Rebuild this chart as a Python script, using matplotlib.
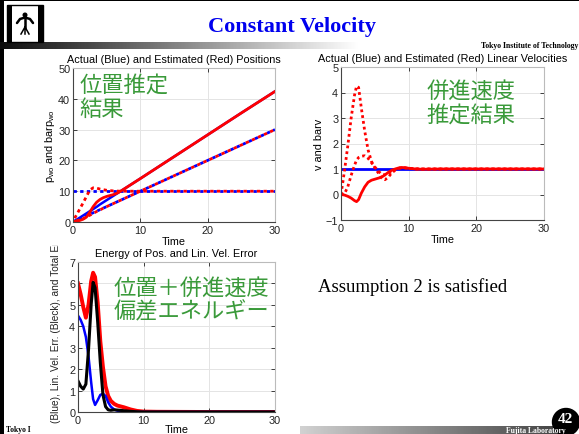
import numpy as np
import matplotlib
matplotlib.use("Agg")
import matplotlib.pyplot as plt
from matplotlib.patches import Rectangle, Circle
from matplotlib.transforms import Bbox, TransformedBbox

plt.rcParams['font.family'] = ['Liberation Sans', 'Noto Sans CJK JP']
plt.rcParams['mathtext.fontset'] = 'custom'
plt.rcParams['mathtext.rm'] = 'Liberation Sans'
plt.rcParams['mathtext.it'] = 'Liberation Sans'

W, H = 579, 435

# ---------------- data ----------------
# positions
t_pos = [0, 0.5, 1, 1.5, 2, 2.5, 3, 3.5, 4, 4.5, 5, 5.5, 6, 6.5, 7, 8, 10, 15, 20, 25, 30]
pos_act_a = [0, 0.7, 1.4, 2.1, 2.8, 3.5, 4.2, 4.9, 5.7, 6.4, 7.1, 7.8, 8.5, 9.2, 9.9, 11.3, 14.1, 21.2, 28.3, 35.4, 42.4]
pos_est_a = [0.2, 0.3, 0.5, 0.9, 1.6, 3.2, 5.0, 6.4, 7.3, 7.9, 8.3, 8.6, 8.9, 9.3, 9.9, 11.3, 14.1, 21.2, 28.3, 35.4, 42.4]
pos_act_b = [10] * 21
pos_est_b = [0.3, 2.2, 4.2, 6.2, 8.3, 10.4, 11.1, 11.0, 10.7, 10.5, 10.3, 10.2, 10.1, 10.05, 10, 10, 10, 10, 10, 10, 10]
pos_act_c = [0, 0.5, 1, 1.5, 2, 2.5, 3, 3.5, 4, 4.5, 5, 5.5, 6, 6.5, 7, 8, 10, 15, 20, 25, 30]
pos_est_c = [0.2, 0.4, 0.7, 1.1, 1.6, 2.2, 2.8, 3.4, 3.9, 4.5, 5, 5.5, 6, 6.5, 7, 8, 10, 15, 20, 25, 30]

# linear velocities
t_vel = [0, 0.5, 1, 1.5, 2, 2.3, 2.6, 3, 3.5, 4, 4.5, 5, 5.5, 6, 6.5, 7, 7.5, 8, 8.5, 9, 10, 11, 12, 15, 20, 30]
vel_act = [1] * 26
vel_est_a = [0, -0.02, -0.07, -0.14, -0.24, -0.28, -0.2, 0.05, 0.3, 0.48, 0.56, 0.6, 0.64, 0.68, 0.77,
             0.87, 0.95, 1.0, 1.04, 1.06, 1.03, 1.0, 0.99, 1, 1, 1]
vel_est_b = [0, 0.9, 1.9, 3.0, 3.9, 4.25, 4.2, 3.4, 2.5, 1.75, 1.3, 1.05, 0.85, 0.65, 0.58,
             0.68, 0.85, 0.95, 1.02, 1.06, 1.03, 1.0, 1.0, 1, 1, 1]
vel_est_c = [0, 0.02, 0.3, 0.75, 1.15, 1.35, 1.45, 1.5, 1.52, 1.42, 1.25, 1.08, 0.92, 0.8, 0.77,
             0.82, 0.9, 0.98, 1.03, 1.05, 1.03, 1.01, 1.0, 1, 1, 1]

# error energies
t_en = [0, 0.4, 0.8, 1.2, 1.6, 2.0, 2.3, 2.6, 3.0, 3.4, 3.8, 4.2, 4.6, 5.0, 5.5, 6.0, 7, 8, 9, 10, 12, 20, 30]
en_total = [6.0, 5.5, 4.9, 4.4, 5.0, 6.1, 6.5, 6.3, 5.1, 3.3, 2.1, 1.2, 0.75, 0.52, 0.38, 0.3, 0.22,
            0.12, 0.05, 0.02, 0.01, 0, 0]
en_pos = [4.5, 4.3, 4.0, 3.5, 2.6, 1.4, 0.6, 0.33, 0.55, 0.8, 0.85, 0.75, 0.45, 0.25, 0.12, 0.06,
          0.02, 0.01, 0, 0, 0, 0, 0]
en_vel = [1.45, 1.2, 1.07, 1.3, 2.9, 5.0, 6.05, 5.8, 4.2, 2.3, 0.8, 0.25, 0.1, 0.08, 0.1, 0.09,
          0.06, 0.03, 0.01, 0, 0, 0, 0]

xticks = [0, 10, 20, 30]

GREEN = '#3a9a3a'
FS = 7.8

fig = plt.figure(figsize=(W / 100, H / 100), dpi=100)
fig.patch.set_facecolor('white')

# background layer in pixel coordinates
bg = fig.add_axes([0, 0, 1, 1], zorder=0)
bg.set_xlim(0, W)
bg.set_ylim(H, 0)
bg.axis('off')


def px_axes(left, top, right, bottom):
    return fig.add_axes([left / W, 1 - bottom / H, (right - left) / W, (bottom - top) / H], zorder=2)


def style(ax, ylim, yticks, labelpad=1):
    ax.set_xlim(0, 30)
    ax.set_ylim(*ylim)
    ax.set_xticks(xticks)
    ax.set_yticks(yticks)
    ax.grid(True, color='#e4e4e4', lw=0.7)
    ax.set_axisbelow(True)
    ax.tick_params(direction='in', length=3, width=0.6, labelsize=FS, pad=2, colors='#222222',
                   top=True, right=True)
    for s in ('left', 'bottom'):
        ax.spines[s].set_color('#444444')
        ax.spines[s].set_linewidth(0.8)
    for s in ('top', 'right'):
        ax.spines[s].set_color('#bbbbbb')
        ax.spines[s].set_linewidth(0.8)
    ax.set_xlabel('Time', fontsize=FS, labelpad=labelpad)


# ---------------- positions ----------------
ax1 = px_axes(73, 69, 275, 223)
style(ax1, (0, 50), [0, 10, 20, 30, 40, 50])
ax1.plot(t_pos, pos_act_a, color='blue', lw=1.8)
ax1.plot(t_pos, pos_act_b, color='blue', lw=2, linestyle=(0, (1.2, 1.2)))
ax1.plot(t_pos, pos_act_c, color='blue', lw=2, linestyle=(0, (1.2, 1.2)))
ax1.plot(t_pos, pos_est_a, color='red', lw=2)
ax1.plot(t_pos, pos_est_b, color='red', lw=2, linestyle=(1.2, (1.2, 1.2)))
ax1.plot(t_pos, pos_est_c, color='red', lw=2, linestyle=(1.2, (1.2, 1.2)))
ax1.set_title('Actual (Blue) and Estimated (Red) Positions', fontsize=FS, pad=4)
ax1.set_ylabel(r'p$\mathregular{_{wo}}$ and barp$\mathregular{_{wo}}$', fontsize=FS, labelpad=1)
ax1.text(0.03, 0.97, '位置推定\n結果', transform=ax1.transAxes, fontsize=16, color=GREEN,
         family='Noto Sans CJK JP', va='top', ha='left', linespacing=1.05)

# ---------------- velocities ----------------
ax2 = px_axes(341, 68, 544, 221)
style(ax2, (-1, 5), [-1, 0, 1, 2, 3, 4, 5])
ax2.plot(t_vel, vel_act, color='blue', lw=2)
ax2.plot(t_vel, vel_est_a, color='red', lw=2)
ax2.plot(t_vel, vel_est_b, color='red', lw=2, linestyle=(0, (1, 1.1)))
ax2.plot(t_vel, vel_est_c, color='red', lw=2, linestyle=(0, (1, 1.1)))
ax2.set_title('Actual (Blue) and Estimated (Red) Linear Velocities', fontsize=FS, pad=4)
ax2.set_ylabel('v and barv', fontsize=FS, labelpad=1)
ax2.text(0.42, 0.92, '併進速度\n推定結果', transform=ax2.transAxes, fontsize=16, color=GREEN,
         family='Noto Sans CJK JP', va='top', ha='left', linespacing=1.05)

# ---------------- energies ----------------
ax3 = px_axes(78, 263, 275, 413)
style(ax3, (0, 7), [0, 1, 2, 3, 4, 5, 6, 7], labelpad=-0.5)
ax3.plot(t_en, en_total, color='red', lw=2.8)
ax3.plot(t_en, en_pos, color='blue', lw=1.8)
ax3.plot(t_en, en_vel, color='black', lw=2.2)
ax3.set_title('Energy of Pos. and Lin. Vel. Error', fontsize=FS, pad=4)
ax3.text(0.18, 0.91, '位置＋併進速度\n偏差エネルギー', transform=ax3.transAxes, fontsize=16,
         color=GREEN, family='Noto Sans CJK JP', va='top', ha='left', linespacing=1.05)

ylab = bg.text(56, 423, '(Blue), Lin. Vel. Err. (Bleck), and Total Energy', rotation=90,
               fontsize=7.3, ha='center', va='bottom', color='#222222')
ylab.set_clip_box(TransformedBbox(Bbox([[0, 246], [W, H]]), bg.transData))
ylab.set_clip_on(True)

# ---------------- slide decorations ----------------
bg.add_patch(Rectangle((0, 0), W, 2, color='black', lw=0))
bg.add_patch(Rectangle((0, 0), 4, H, color='black', lw=0))

# header gradient bar
grad = np.linspace(0.05, 1.0, 256)[None, :]
bg.imshow(grad, cmap='gray', vmin=0, vmax=1, extent=[0, 360, 50, 43], aspect='auto', zorder=1)

# logo box
bg.add_patch(Rectangle((7, 6), 36, 37, facecolor='white', edgecolor='black', lw=1, zorder=2))
bg.add_patch(Rectangle((7, 6), 5, 37, color='black', lw=0, zorder=3))
bg.add_patch(Rectangle((38, 6), 5, 37, color='black', lw=0, zorder=3))
bg.add_patch(Circle((25, 16), 1.8, color='black', zorder=3))
bg.plot([17, 20, 25, 30, 33], [24, 20, 18.5, 20, 24], color='black', lw=1.8, zorder=3,
        solid_capstyle='round')
bg.plot([25, 25], [18, 29], color='black', lw=1.8, zorder=3)
bg.plot([25, 21], [28, 35], color='black', lw=1.1, zorder=3)
bg.plot([25, 29], [28, 35], color='black', lw=1.1, zorder=3)
bg.plot([25, 25], [28, 35], color='black', lw=1.1, zorder=3)

bg.text(292, 27, 'Constant Velocity', fontsize=16, fontweight='bold', color='#0000ee',
        family='Liberation Serif', ha='center', va='center', zorder=3)
bg.text(578, 46, 'Tokyo Institute of Technology', fontsize=5.6, fontweight='bold',
        family='Liberation Serif', ha='right', va='center', zorder=3)

bg.text(318, 287, 'Assumption 2 is satisfied', fontsize=13.5, family='Liberation Serif',
        ha='left', va='center', zorder=3)

# footer
gradf = np.linspace(0.82, 0.25, 256)[None, :]
bg.imshow(gradf, cmap='gray', vmin=0, vmax=1, extent=[300, 565, H, 427], aspect='auto', zorder=1)
bg.add_patch(Circle((566, 423), 13.5, color='black', zorder=3))
bg.text(565, 420, '42', fontsize=11, fontweight='bold', color='white', family='Liberation Serif',
        ha='center', va='center', zorder=4)
bg.text(536, 431, 'Fujita Laboratory', fontsize=5.5, fontweight='bold', color='white',
        family='Liberation Serif', ha='center', va='center', zorder=4)
bg.text(6, 430, 'Tokyo I', fontsize=5.5, fontweight='bold', family='Liberation Serif',
        ha='left', va='center', zorder=3)

fig.savefig('out.png', dpi=100)
